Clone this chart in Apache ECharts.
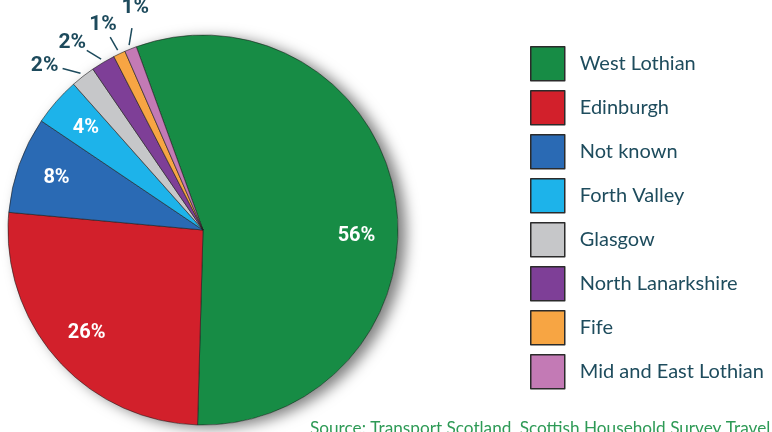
<!DOCTYPE html>
<html>
<head>
<meta charset="utf-8">
<script src="https://cdn.jsdelivr.net/npm/echarts@6/dist/echarts.min.js"></script>
<style>
  html, body { margin: 0; padding: 0; background: #fff; }
  #main { width: 772px; height: 432px; }
</style>
</head>
<body>
<div id="main"></div>
<script>
var regions = ["West Lothian", "Edinburgh", "Not known", "Forth Valley", "Glasgow", "North Lanarkshire", "Fife", "Mid and East Lothian"];
var shares = [56, 26, 8, 4, 2, 2, 1, 1];
var colors = ["#178c45", "#d2202b", "#2a6ab4", "#1db3ea", "#c6c7c9", "#7e3f97", "#f7a543", "#c37ab5"];
var sourceText = "Source: Transport Scotland, Scottish Household Survey Travel Diary";

var cx = 203, cy = 230, R = 195, START = 110;

var total = 0;
for (var i = 0; i < shares.length; i++) total += shares[i];

// mid angle (degrees, counter-clockwise from 3 o'clock) of each slice
var midAngles = [];
var acc = 0;
for (var i = 0; i < shares.length; i++) {
  var m = START - (acc + shares[i] / 2) / total * 360;
  while (m < 0) m += 360;
  midAngles.push(m);
  acc += shares[i];
}

var mainData = [], innerData = [], smallIdx = [];
for (var i = 0; i < regions.length; i++) {
  var big = shares[i] >= 4;
  if (!big) smallIdx.push(i);
  mainData.push({
    name: regions[i],
    value: shares[i],
    itemStyle: { color: colors[i] },
    label: { show: !big },
    labelLine: { show: !big }
  });
  innerData.push({
    name: regions[i],
    value: shares[i],
    label: { show: big }
  });
}

var smallMean = 0;
for (var i = 0; i < smallIdx.length; i++) smallMean += midAngles[smallIdx[i]];
smallMean /= smallIdx.length;

function polar(angle, r) {
  var a = angle * Math.PI / 180;
  return [cx + r * Math.cos(a), cy - r * Math.sin(a)];
}

// small slices: labels spread evenly along an arc outside the pie
function outerLayout(p) {
  var k = smallIdx.length - 1 - smallIdx.indexOf(p.dataIndex);
  var mid = midAngles[p.dataIndex];
  var fan = smallMean + 1.5 + (k - (smallIdx.length - 1) / 2) * 9;
  var p0 = polar(mid, 199);
  var p1 = polar((mid + fan) / 2, 214);
  var t = polar(fan, k === 0 ? 232 : 228);
  return {
    x: t[0],
    y: t[1],
    align: "center",
    verticalAlign: "middle",
    labelLinePoints: [p0, p1, p1]
  };
}

var chart = echarts.init(document.getElementById("main"));
chart.setOption({
  animation: false,
  legend: {
    orient: "vertical",
    left: 530,
    top: 46,
    padding: 0,
    data: regions,
    icon: "rect",
    itemWidth: 34,
    itemHeight: 34,
    itemGap: 8.5,
    itemStyle: { borderColor: "#2b2b2b", borderWidth: 1.5 },
    textStyle: {
      fontFamily: "Lato",
      fontSize: 20,
      color: "#1e4c5d",
      padding: [0, 0, 0, 10]
    }
  },
  graphic: [{
    type: "text",
    left: 310,
    top: 420,
    style: {
      text: sourceText,
      fontFamily: "Lato",
      fontSize: 17.2,
      fill: "#2e9a56"
    }
  }],
  series: [
    {
      // drop shadow under the whole pie
      type: "pie",
      center: [cx, cy],
      radius: R,
      silent: true,
      z: 1,
      label: { show: false },
      labelLine: { show: false },
      itemStyle: {
        color: "#ffffff",
        shadowBlur: 14,
        shadowOffsetX: 8,
        shadowOffsetY: 3,
        shadowColor: "rgba(0,0,0,0.5)"
      },
      data: [{ name: "total", value: total }]
    },
    {
      name: "share",
      type: "pie",
      center: [cx, cy],
      radius: R,
      startAngle: START,
      clockwise: true,
      z: 2,
      avoidLabelOverlap: false,
      itemStyle: { borderColor: "rgba(30,30,30,0.6)", borderWidth: 1 },
      label: {
        position: "outside",
        formatter: "{c}%",
        fontFamily: "Roboto",
        fontWeight: "bold",
        fontSize: 21,
        color: "#1d4a5c"
      },
      labelLine: {
        length: 14,
        length2: 0,
        lineStyle: { color: "#1d4a5c", width: 1.5 }
      },
      labelLayout: outerLayout,
      emphasis: { disabled: true },
      data: mainData
    },
    {
      // white percentage labels for the larger slices
      type: "pie",
      center: [cx, cy],
      radius: [110, R],
      startAngle: START,
      clockwise: true,
      silent: true,
      z: 3,
      itemStyle: { color: "rgba(0,0,0,0)" },
      label: {
        position: "inside",
        formatter: "{c}%",
        fontFamily: "Roboto",
        fontWeight: "bold",
        fontSize: 20,
        color: "#ffffff"
      },
      labelLine: { show: false },
      labelLayout: function (p) {
        return p.dataIndex === 0 ? { dy: 31 } : {};
      },
      data: innerData
    }
  ]
});
</script>
</body>
</html>
